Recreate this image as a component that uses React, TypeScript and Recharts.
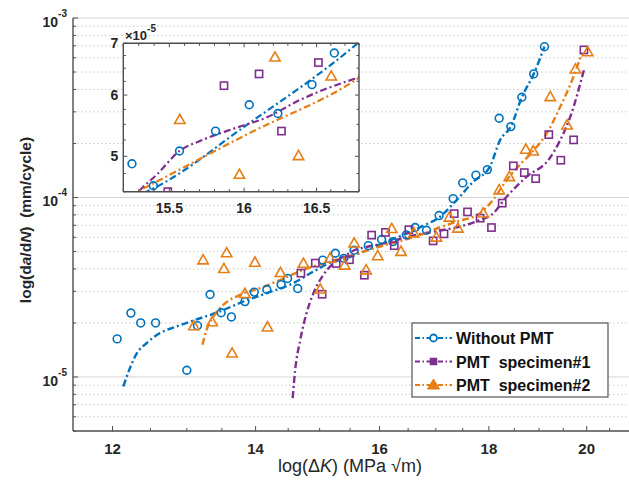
import React from 'react';
import { ComposedChart, Line, Scatter, XAxis, YAxis, ReferenceLine, CartesianGrid } from 'recharts';

const FONT = '"Liberation Sans", Arial, Helvetica, sans-serif';
const BLUE = '#0072BD';
const PURPLE = '#7E2F8E';
const ORANGE = '#E67E17';
const AXIS = '#4d4d4d';
const TXT = '#262626';

// ---- Scatter data: Without PMT ----
const woK = [12.06, 12.24, 12.37, 12.57, 13.0, 13.15, 13.33, 13.49, 13.64, 13.84, 13.98, 14.17, 14.39, 14.49, 14.65, 15.05, 15.256, 15.395, 15.567, 15.807, 16.035, 16.231, 16.468, 16.625, 16.83, 17.06, 17.32, 17.5, 17.75, 17.97, 18.2, 18.43, 18.65, 18.89, 19.11];
const woRate = [1.63e-5, 2.27e-5, 2.0e-5, 2.0e-5, 1.09e-5, 1.93e-5, 2.88e-5, 2.28e-5, 2.16e-5, 2.63e-5, 2.97e-5, 3.07e-5, 3.27e-5, 3.54e-5, 3.11e-5, 4.48e-5, 4.89e-5, 4.58e-5, 5.08e-5, 5.39e-5, 5.83e-5, 5.68e-5, 6.19e-5, 6.8e-5, 6.57e-5, 7.93e-5, 9.86e-5, 1.206e-4, 1.331e-4, 1.43e-4, 2.764e-4, 2.482e-4, 3.618e-4, 4.88e-4, 6.92e-4];

// ---- Scatter data: PMT specimen#1 ----
const s1K = [14.7, 14.93, 15.04, 15.27, 15.49, 15.74, 15.864, 16.102, 16.256, 16.513, 16.95, 17.15, 17.34, 17.59, 17.83, 18.05, 18.26, 18.48, 18.7, 18.93, 19.2, 19.45, 19.72, 19.94];
const s1Rate = [3.79e-5, 4.31e-5, 2.89e-5, 4.29e-5, 4.5e-5, 3.69e-5, 6.17e-5, 6.39e-5, 5.39e-5, 6.61e-5, 5.73e-5, 6.27e-5, 8.13e-5, 8.31e-5, 7.67e-5, 6.8e-5, 9.3e-5, 1.5e-4, 1.376e-4, 1.274e-4, 2.24e-4, 1.613e-4, 2.094e-4, 6.64e-4];

// ---- Scatter data: PMT specimen#2 ----
const s2K = [13.1, 13.23, 13.36, 13.53, 13.57, 13.65, 13.84, 13.99, 14.18, 14.38, 14.74, 15.01, 15.17, 15.41, 15.569, 15.77, 15.968, 16.211, 16.374, 16.603, 17.01, 17.25, 17.41, 17.89, 18.2, 18.4, 18.73, 18.88, 19.23, 19.58, 19.76, 20.02];
const s2Rate = [1.93e-5, 4.49e-5, 2.03e-5, 4.02e-5, 4.92e-5, 1.36e-5, 2.92e-5, 4.36e-5, 1.9e-5, 3.82e-5, 4.3e-5, 3.09e-5, 4.59e-5, 4.2e-5, 5.58e-5, 3.95e-5, 4.74e-5, 6.72e-5, 5.01e-5, 6.35e-5, 6.01e-5, 7.77e-5, 6.75e-5, 8.2e-5, 1.102e-4, 1.307e-4, 1.858e-4, 1.817e-4, 3.646e-4, 2.536e-4, 5.2e-4, 6.49e-4];

// ---- Fitted curves ----
const woFitK = [12.14, 12.32, 12.45, 12.63, 12.86, 13.09, 13.43, 13.82, 14.17, 14.58, 14.9, 15.22, 15.35, 16.03, 16.79, 17.04, 17.39, 17.7, 18.02, 18.22, 18.43, 18.65, 18.89, 19.11];
const woFitRate = [8.85e-6, 1.358e-5, 1.545e-5, 1.756e-5, 1.911e-5, 2.063e-5, 2.286e-5, 2.633e-5, 2.931e-5, 3.332e-5, 3.867e-5, 4.396e-5, 4.5e-5, 5.51e-5, 7.0e-5, 7.67e-5, 9.7e-5, 1.226e-4, 1.486e-4, 2.094e-4, 2.482e-4, 3.618e-4, 4.88e-4, 6.92e-4];

const s1FitK = [14.57, 14.61, 14.69, 14.79, 14.9, 15.06, 15.3, 15.42, 15.567, 15.71, 15.93, 16.16, 16.38, 16.77, 16.95, 17.45, 17.83, 18.05, 18.35, 18.75, 19.2, 19.44, 19.65, 19.94];
const s1FitRate = [7.63e-6, 1.096e-5, 1.611e-5, 2.269e-5, 2.931e-5, 3.707e-5, 4.5e-5, 4.74e-5, 5.08e-5, 5.24e-5, 5.43e-5, 5.62e-5, 5.91e-5, 6.3e-5, 6.45e-5, 6.89e-5, 7.5e-5, 8.0e-5, 1.012e-4, 1.307e-4, 1.63e-4, 2.094e-4, 2.82e-4, 5.13e-4];

const s2FitK = [13.22, 13.28, 13.38, 13.52, 13.77, 14.07, 14.38, 14.74, 15.29, 16.03, 16.79, 16.95, 17.39, 17.83, 18.08, 18.35, 18.61, 18.88, 19.16, 19.44, 19.69, 19.9];
const s2FitRate = [1.511e-5, 1.832e-5, 2.173e-5, 2.523e-5, 2.869e-5, 3.126e-5, 3.477e-5, 3.953e-5, 4.5e-5, 5.35e-5, 6.3e-5, 6.6e-5, 7.34e-5, 8.18e-5, 9.7e-5, 1.253e-4, 1.52e-4, 1.82e-4, 2.28e-4, 3.21e-4, 4.52e-4, 6.4e-4];

// ---- Ticks ----
const mainXTicks = [12, 12.5, 13, 13.5, 14, 14.5, 15, 15.5, 16, 16.5, 17, 17.5, 18, 18.5, 19, 19.5, 20, 20.5];
const mainXLabels = [12, 14, 16, 18, 20];
const mainYTicks = [5e-6, 6e-6, 7e-6, 8e-6, 9e-6, 1e-5, 2e-5, 3e-5, 4e-5, 5e-5, 6e-5, 7e-5, 8e-5, 9e-5, 1e-4, 2e-4, 3e-4, 4e-4, 5e-4, 6e-4, 7e-4, 8e-4, 9e-4, 1e-3];
const mainYLabels = [1e-5, 1e-4, 1e-3];
const insetXTicks = [15.2, 15.3, 15.4, 15.5, 15.6, 15.7, 15.8, 15.9, 16.0, 16.1, 16.2, 16.3, 16.4, 16.5, 16.6, 16.7, 16.8];
const insetXLabels = [15.5, 16, 16.5];
const insetYTicks = [4.5e-5, 4.75e-5, 5e-5, 5.25e-5, 5.5e-5, 5.75e-5, 6e-5, 6.25e-5, 6.5e-5, 6.75e-5, 7e-5];
const insetYLabels = [5e-5, 6e-5, 7e-5];

const legendNames = ['Without PMT', 'PMT  specimen#1', 'PMT  specimen#2'];

const MAIN_X_DOMAIN = [11.5, 21];
const MAIN_Y_DOMAIN = [5e-6, 1e-3];
const INSET_X_DOMAIN = [15.2, 16.8];
const INSET_Y_DOMAIN = [4.5e-5, 7e-5];

const pts = (xs: number[], ys: number[]) => xs.map((x, i) => ({ x, y: ys[i] }));
const near = (a: number, b: number) => Math.abs(a - b) < Math.abs(b) * 1e-6 + 1e-12;
const inList = (v: number, list: number[]) => list.some((l) => near(v, l));

const woPts = pts(woK, woRate);
const s1Pts = pts(s1K, s1Rate);
const s2Pts = pts(s2K, s2Rate);
const woFit = pts(woFitK, woFitRate);
const s1Fit = pts(s1FitK, s1FitRate);
const s2Fit = pts(s2FitK, s2FitRate);

const inInset = (p: { x: number; y: number }) =>
  p.x >= INSET_X_DOMAIN[0] && p.x <= INSET_X_DOMAIN[1] && p.y >= INSET_Y_DOMAIN[0] * 0.999 && p.y <= INSET_Y_DOMAIN[1];

const DASH = '7 3 2 3';

const CircleShape = (p: any) => <circle cx={p.cx} cy={p.cy} r={3.9} fill="none" stroke={BLUE} strokeWidth={1.6} />;
const SquareShape = (p: any) => (
  <rect x={p.cx - 3.6} y={p.cy - 3.6} width={7.2} height={7.2} fill="none" stroke={PURPLE} strokeWidth={1.6} />
);
const TriShape = (p: any) => (
  <polygon
    points={`${p.cx},${p.cy - 5.2} ${p.cx - 5.2},${p.cy + 4} ${p.cx + 5.2},${p.cy + 4}`}
    fill="none"
    stroke={ORANGE}
    strokeWidth={1.6}
    strokeLinejoin="miter"
  />
);

const MainXTick = (p: any) => {
  const v = p.payload.value;
  const major = inList(v, mainXLabels);
  return (
    <g>
      <line x1={p.x} x2={p.x} y1={p.y} y2={p.y - (major ? 5 : 3)} stroke={AXIS} strokeWidth={1} />
      {major && (
        <text x={p.x} y={p.y + 23} textAnchor="middle" fontFamily={FONT} fontWeight="bold" fontSize={15} fill={TXT}>
          {String(v)}
        </text>
      )}
    </g>
  );
};

const MainYTick = (p: any) => {
  const v = p.payload.value;
  const major = inList(v, mainYLabels);
  return (
    <g>
      <line x1={p.x} x2={p.x + (major ? 5 : 3)} y1={p.y} y2={p.y} stroke={AXIS} strokeWidth={1} />
      {major && (
        <text x={p.x - 6} y={p.y + 9} textAnchor="end" fontFamily={FONT} fontWeight="bold" fontSize={14} fill={TXT}>
          10
          <tspan dy={-10} fontSize={10}>
            {String(Math.round(Math.log10(v)))}
          </tspan>
        </text>
      )}
    </g>
  );
};

const InsetXTick = (p: any) => {
  const v = p.payload.value;
  const major = inList(v, insetXLabels);
  return (
    <g>
      <line x1={p.x} x2={p.x} y1={p.y} y2={p.y - (major ? 4 : 2.5)} stroke={AXIS} strokeWidth={1} />
      {major && (
        <text x={p.x} y={p.y + 21} textAnchor="middle" fontFamily={FONT} fontWeight="bold" fontSize={14} fill={TXT}>
          {String(v)}
        </text>
      )}
    </g>
  );
};

const InsetTopTick = (p: any) => {
  const v = p.payload.value;
  const major = inList(v, insetXLabels);
  return <line x1={p.x} x2={p.x} y1={p.y} y2={p.y + (major ? 4 : 2.5)} stroke={AXIS} strokeWidth={1} />;
};

const InsetYTick = (p: any) => {
  const v = p.payload.value;
  const major = inList(v, insetYLabels);
  return (
    <g>
      <line x1={p.x} x2={p.x + (major ? 4 : 2.5)} y1={p.y} y2={p.y} stroke={AXIS} strokeWidth={1} />
      {major && (
        <text x={p.x - 5} y={p.y + 5} textAnchor="end" fontFamily={FONT} fontWeight="bold" fontSize={14} fill={TXT}>
          {String(Math.round(v * 1e5))}
        </text>
      )}
    </g>
  );
};

const InsetRightTick = (p: any) => {
  const v = p.payload.value;
  const major = inList(v, insetYLabels);
  return <line x1={p.x} x2={p.x - (major ? 4 : 2.5)} y1={p.y} y2={p.y} stroke={AXIS} strokeWidth={1} />;
};

const axisLineStyle = { stroke: AXIS, strokeWidth: 1.4 };

const LegendMarker = ({ i, cx, cy }: { i: number; cx: number; cy: number }) => {
  if (i === 0) return <circle cx={cx} cy={cy} r={3.5} fill="#fff" stroke={BLUE} strokeWidth={1.8} />;
  if (i === 1) return <rect x={cx - 3} y={cy - 3} width={6} height={6} fill={PURPLE} stroke={PURPLE} strokeWidth={1.5} />;
  return <polygon points={`${cx},${cy - 6} ${cx - 6},${cy + 4} ${cx + 6},${cy + 4}`} fill={ORANGE} stroke={ORANGE} strokeWidth={1} />;
};

const legendColors = [BLUE, PURPLE, ORANGE];

export default function App() {
  return (
    <div style={{ position: 'absolute', left: 0, top: 0, width: 629, height: 482, overflow: 'hidden', background: '#fff' }}>
      <div style={{ position: 'absolute', left: 0, top: 0 }}>
        <ComposedChart width={640} height={482} margin={{ top: 18, right: 8, bottom: 0, left: 13 }}>
          <XAxis
            dataKey="x"
            type="number"
            scale="log"
            domain={MAIN_X_DOMAIN}
            allowDataOverflow
            ticks={mainXTicks}
            interval={0}
            tickSize={0}
            tickMargin={0}
            tickLine={false}
            tick={MainXTick}
            height={51}
            axisLine={axisLineStyle}
          />
          <YAxis
            type="number"
            scale="log"
            domain={MAIN_Y_DOMAIN}
            allowDataOverflow
            ticks={mainYTicks}
            interval={0}
            tickSize={0}
            tickMargin={0}
            tickLine={false}
            tick={MainYTick}
            width={60}
            axisLine={axisLineStyle}
          />
          {mainYTicks
            .filter((v) => v > MAIN_Y_DOMAIN[0] * 1.01)
            .map((v) => (
              <ReferenceLine
                key={'g' + v}
                y={v}
                stroke={inList(v, mainYLabels) ? '#d4d4d4' : '#c9c9c9'}
                strokeWidth={1}
                strokeDasharray={inList(v, mainYLabels) ? undefined : '1.5 2.5'}
              />
            ))}
          <Line data={woFit} dataKey="y" type="monotone" stroke={BLUE} strokeWidth={2.4} strokeDasharray={DASH} dot={false} isAnimationActive={false} />
          <Line data={s1Fit} dataKey="y" type="monotone" stroke={PURPLE} strokeWidth={2.4} strokeDasharray={DASH} dot={false} isAnimationActive={false} />
          <Line data={s2Fit} dataKey="y" type="monotone" stroke={ORANGE} strokeWidth={2.4} strokeDasharray={DASH} dot={false} isAnimationActive={false} />
          <Scatter data={woPts} dataKey="y" shape={CircleShape} isAnimationActive={false} />
          <Scatter data={s1Pts} dataKey="y" shape={SquareShape} isAnimationActive={false} />
          <Scatter data={s2Pts} dataKey="y" shape={TriShape} isAnimationActive={false} />
        </ComposedChart>
      </div>

      <div style={{ position: 'absolute', left: 0, top: 0 }}>
        <ComposedChart width={380} height={230} margin={{ top: 42.3, right: 20, bottom: 8.3, left: 93.3 }}>
          <CartesianGrid horizontal={false} vertical={false} fill="#ffffff" fillOpacity={1} stroke="none" />
          <XAxis
            dataKey="x"
            type="number"
            scale="log"
            domain={INSET_X_DOMAIN}
            allowDataOverflow
            ticks={insetXTicks}
            interval={0}
            tickSize={0}
            tickMargin={0}
            tickLine={false}
            tick={InsetXTick}
            height={30}
            axisLine={axisLineStyle}
          />
          <XAxis
            xAxisId="t"
            orientation="top"
            dataKey="x"
            type="number"
            scale="log"
            domain={INSET_X_DOMAIN}
            allowDataOverflow
            ticks={insetXTicks}
            interval={0}
            tickSize={0}
            tickMargin={0}
            tickLine={false}
            tick={InsetTopTick}
            height={1}
            axisLine={axisLineStyle}
          />
          <YAxis
            type="number"
            scale="log"
            domain={INSET_Y_DOMAIN}
            allowDataOverflow
            ticks={insetYTicks}
            interval={0}
            tickSize={0}
            tickMargin={0}
            tickLine={false}
            tick={InsetYTick}
            width={30}
            axisLine={axisLineStyle}
          />
          <YAxis
            yAxisId="r"
            orientation="right"
            type="number"
            scale="log"
            domain={INSET_Y_DOMAIN}
            allowDataOverflow
            ticks={insetYTicks}
            interval={0}
            tickSize={0}
            tickMargin={0}
            tickLine={false}
            tick={InsetRightTick}
            width={1}
            axisLine={axisLineStyle}
          />
          <Line data={woFit} dataKey="y" type="monotone" stroke={BLUE} strokeWidth={2.2} strokeDasharray={DASH} dot={false} isAnimationActive={false} />
          <Line data={s1Fit} dataKey="y" type="monotone" stroke={PURPLE} strokeWidth={2.2} strokeDasharray={DASH} dot={false} isAnimationActive={false} />
          <Line data={s2Fit} dataKey="y" type="monotone" stroke={ORANGE} strokeWidth={2.2} strokeDasharray={DASH} dot={false} isAnimationActive={false} />
          <Scatter data={woPts.filter(inInset)} dataKey="y" shape={CircleShape} isAnimationActive={false} />
          <Scatter data={s1Pts.filter(inInset)} dataKey="y" shape={SquareShape} isAnimationActive={false} />
          <Scatter data={s2Pts.filter(inInset)} dataKey="y" shape={TriShape} isAnimationActive={false} />
        </ComposedChart>
      </div>

      <svg width={629} height={482} style={{ position: 'absolute', left: 0, top: 0, pointerEvents: 'none' }}>
        <text x={125} y={40} fontFamily={FONT} fontWeight="bold" fontSize={13} fill={TXT}>
          ×10
          <tspan dy={-8} fontSize={10}>-5</tspan>
        </text>
        <text
          transform="rotate(-90 25 220)"
          x={25}
          y={220}
          textAnchor="middle"
          dominantBaseline="central"
          fontFamily={FONT}
          fontWeight="bold"
          fontSize={15.5}
          fill={TXT}
          style={{ whiteSpace: 'pre' }}
        >
          log(d<tspan fontStyle="italic">a</tspan>/d<tspan fontStyle="italic">N</tspan>)  (mm/cycle)
        </text>
        <text x={350} y={472} textAnchor="middle" fontFamily={FONT} fontSize={18} fill={TXT}>
          log(Δ<tspan fontStyle="italic">K</tspan>) (MPa √m)
        </text>
        <rect x={412} y={323} width={196} height={74} fill="#fff" stroke="#555" strokeWidth={1.2} />
        {legendNames.map((name, i) => {
          const cy = 338 + i * 23.5;
          return (
            <g key={name}>
              <line x1={415} x2={452} y1={cy} y2={cy} stroke={legendColors[i]} strokeWidth={2.2} strokeDasharray="5 2.5 1.5 2.5" />
              <LegendMarker i={i} cx={433.5} cy={cy} />
              <text x={456} y={cy + 6} fontFamily={FONT} fontWeight="bold" fontSize={16} fill="#111" style={{ whiteSpace: 'pre' }}>
                {name}
              </text>
            </g>
          );
        })}
      </svg>
    </div>
  );
}
